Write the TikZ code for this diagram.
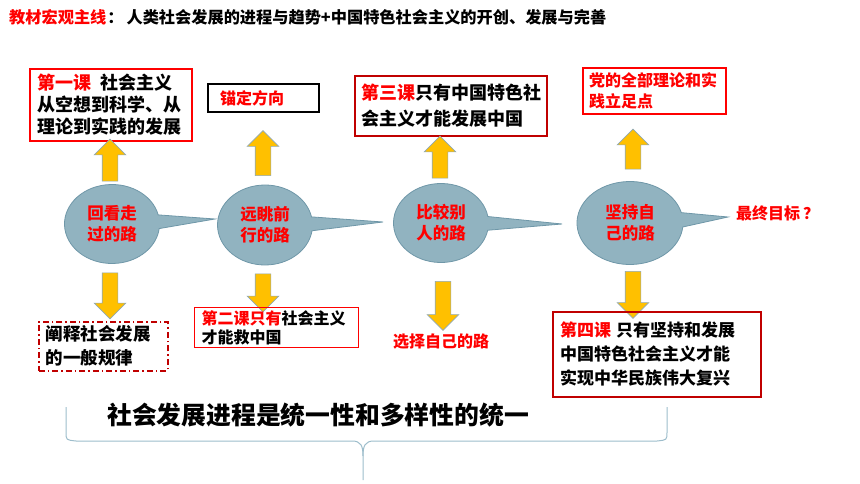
\documentclass[tikz,border=0pt]{standalone}
\usepackage{fontspec}
\setmainfont{Noto Sans CJK SC}
\usetikzlibrary{shapes.callouts,shapes.arrows}
\definecolor{roadfill}{HTML}{91B3C0}
\definecolor{roadedge}{HTML}{6F97A8}
\definecolor{gold}{HTML}{FFC000}
\definecolor{goldedge}{HTML}{8EA9B7}
\definecolor{darkred}{HTML}{C00000}
\definecolor{bracecol}{HTML}{9DBDCB}
\newcommand{\fs}[2]{\fontsize{#1}{#2}\selectfont\bfseries}
\tikzset{
	road/.style = {ellipse callout, draw=roadedge, fill=roadfill, line width=0.8pt,
		minimum width=95pt, minimum height=79pt, callout pointer arc=20,
		align=center, text=red, font=\fs{16.5}{21}},
	lbox/.style = {draw=red, line width=2pt, anchor=north west, align=left,
		inner xsep=7pt, inner ysep=0pt},
	up/.style = {single arrow, draw=goldedge, fill=gold, line width=0.6pt,
		inner sep=7.5pt, minimum width=31pt, single arrow head extend=8pt,
		single arrow head indent=0pt, rotate=90, minimum height=#1},
	dn/.style = {up=#1, rotate=180}
}
\begin{document}
\begin{tikzpicture}[x=1pt,y=-1pt]
\useasboundingbox (0,0) rectangle (860,484);

% title line
\node [anchor=west, inner sep=0pt, font=\fs{16.2}{18}] (title) at (9,17)
	{{\color{red}教材宏观主线}\hspace{1pt}：\hspace{3pt}人类社会发展的进程与趋势+中国特色社会主义的开创、发展与完善};

% top boxes
\node [lbox, text width=148pt, minimum height=72pt, font=\fs{18}{22}] (les1) at (29,68)
	{{\color{red}第一课}\hspace{9pt}社会主义\\从空想到科学、从\\理论到实践的发展};
\node [lbox, draw=black, text width=87pt, minimum height=28pt, inner xsep=12pt,
	text=red, font=\fs{16}{19}] (aim) at (207,83) {锚定方向};
\node [lbox, draw=darkred, text width=180pt, minimum height=60pt, inner xsep=6pt,
	font=\fs{18}{26}] (les3) at (354,75)
	{{\color{red}第三课}只有中国特色社\\会主义才能发展中国};
\node [lbox, text width=131pt, minimum height=46pt, inner xsep=6pt, text=red,
	font=\fs{16}{21}] (base) at (582,67) {党的全部理论和实\\践立足点};

% the four roads
\node [road, callout absolute pointer={(215,219)}] (look) at (112,224) {回看走\\过的路};
\node [road, minimum height=80pt, callout absolute pointer={(383,222)}] (ahead) at (265,225) {远眺前\\行的路};
\node [road, callout absolute pointer={(562,224)}] (other) at (441,223) {比较别\\人的路};
\node [road, minimum width=106pt, minimum height=83pt,
	callout absolute pointer={(728,217)}] (own) at (630,223) {坚持自\\己的路};
\node [anchor=west, inner sep=0pt, text=red, font=\fs{16}{19}] (goal) at (736,213) {最终目标\hspace{3pt}？};

% arrows
\node [up=42pt] (up1) at (110,164) {};
\node [up=45pt] (up2) at (263,157) {};
\node [up=42pt] (up3) at (440,161) {};
\node [up=40pt] (up4) at (633,153) {};
\node [dn=46pt] (dn1) at (110,292) {};
\node [dn=38pt] (dn2) at (263,289) {};
\node [dn=49pt] (dn3) at (443,302) {};
\node [dn=47pt] (dn4) at (633,291) {};

% bottom boxes
\node [lbox, draw=darkred, line width=1.5pt, dash pattern=on 6pt off 3pt on 1.5pt off 3pt,
	text width=115pt, minimum height=49pt, font=\fs{17.5}{24}] (law) at (38,321)
	{阐释社会发展\\的一般规律};
\node [lbox, line width=1.2pt, text width=150pt, minimum height=40pt,
	font=\fs{16}{19}] (les2) at (194,307)
	{{\color{red}第二课只有}社会主义\\才能救中国};
\node [text=red, inner sep=0pt, font=\fs{16}{19}] (choose) at (441,342) {选择自己的路};
\node [lbox, draw=darkred, text width=194pt, minimum height=85pt,
	font=\fs{17}{24}] (les4) at (552,311)
	{{\color{red}第四课}\hspace{5pt}只有坚持和发展\\中国特色社会主义才能\\实现中华民族伟大复兴};

% summary and brace
\node [anchor=west, inner sep=0pt, font=\fs{24.8}{28}] (unity) at (107,415)
	{社会发展进程是统一性和多样性的统一};
\draw [bracecol, line width=1pt]
	(66,407) -- (66,432) .. controls (66,440) .. (76,441) -- (352,441)
	.. controls (361,441) and (363,446) .. (363,456) -- (363,480);
\draw [bracecol, line width=1pt]
	(667,407) -- (667,432) .. controls (667,440) .. (657,441) -- (374,441)
	.. controls (365,441) and (363,446) .. (363,456);
\end{tikzpicture}
\end{document}
